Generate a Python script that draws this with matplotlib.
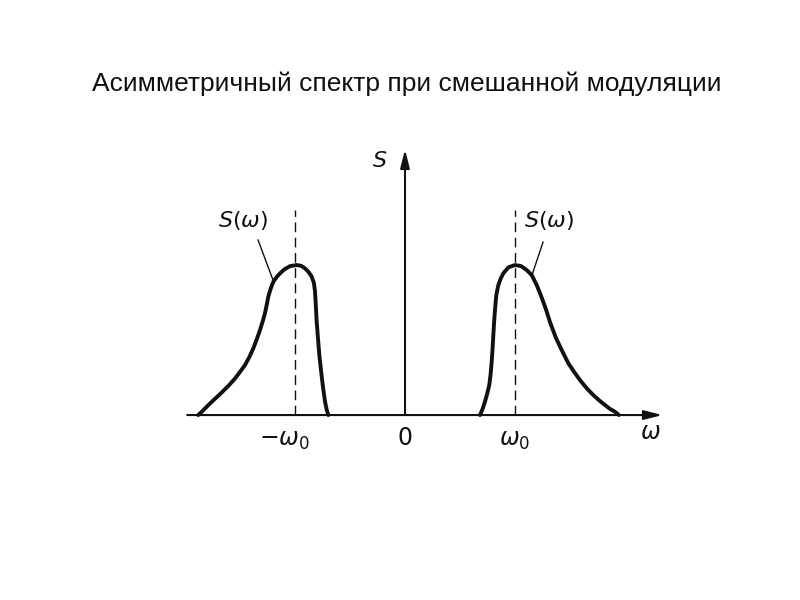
import matplotlib
matplotlib.use("Agg")
import matplotlib.pyplot as plt

plt.rcParams["font.family"] = ["Liberation Sans", "DejaVu Sans"]
plt.rcParams["mathtext.fontset"] = "dejavusans"

TITLE = "Асимметричный спектр при смешанной модуляции"

# spectrum around -w0 (steep edge on the inner side)
left_w = [-1.880, -1.830, -1.780, -1.725, -1.667, -1.605, -1.545, -1.500, -1.455, -1.415,
          -1.379, -1.348, -1.318, -1.295, -1.273, -1.257, -1.243, -1.220, -1.197, -1.165,
          -1.136, -1.095, -1.045, -0.985, -0.945, -0.909, -0.875, -0.848, -0.828, -0.818,
          -0.810, -0.803, -0.791, -0.779, -0.764, -0.748, -0.727, -0.712, -0.697]
left_s = [0.000, 0.035, 0.072, 0.110, 0.150, 0.195, 0.244, 0.288, 0.333, 0.387,
          0.445, 0.505, 0.567, 0.622, 0.678, 0.735, 0.789, 0.845, 0.889, 0.922,
          0.945, 0.972, 0.993, 1.000, 0.995, 0.978, 0.952, 0.922, 0.880, 0.822,
          0.720, 0.622, 0.510, 0.400, 0.300, 0.200, 0.089, 0.035, 0.000]

# spectrum around +w0 (steep edge on the inner side)
right_w = [0.682, 0.705, 0.727, 0.748, 0.766, 0.778, 0.788, 0.796, 0.803, 0.810,
           0.818, 0.830, 0.848, 0.870, 0.894, 0.940, 1.000, 1.055, 1.106, 1.152,
           1.197, 1.227, 1.257, 1.288, 1.318, 1.345, 1.373, 1.430, 1.485, 1.540,
           1.591, 1.650, 1.712, 1.765, 1.818, 1.865, 1.909, 1.945]
right_s = [0.000, 0.040, 0.089, 0.145, 0.200, 0.270, 0.355, 0.440, 0.533, 0.620,
           0.700, 0.800, 0.865, 0.910, 0.945, 0.985, 1.000, 0.993, 0.967, 0.933,
           0.867, 0.813, 0.755, 0.690, 0.620, 0.567, 0.513, 0.425, 0.345, 0.285,
           0.233, 0.180, 0.133, 0.098, 0.067, 0.040, 0.022, 0.000]

w0 = 1.0
xtick_pos = [-w0, 0.0, w0]
xtick_labels = [r"$-\omega_0$", r"$0$", r"$\omega_0$"]

fig = plt.figure(figsize=(8, 6), dpi=100)
fig.text(0.509, 0.86, TITLE, ha="center", va="center", fontsize=19, color="#111111")

# axes spanning the whole canvas; axis origin placed by limits
ax = fig.add_axes([0, 0, 1, 1])
ax.set_xlim(-3.682, 3.591)
ax.set_ylim(-1.233, 2.767)
ax.axis("off")

ink = "#111111"
arrow = dict(arrowstyle="-|>,head_length=1.1,head_width=0.28", color=ink, lw=1.5,
             shrinkA=0, shrinkB=0)
ax.annotate("", xy=(2.34, 0), xytext=(-1.98, 0), arrowprops=arrow)
ax.annotate("", xy=(0, 1.77), xytext=(0, 0), arrowprops=arrow)

ax.plot(left_w, left_s, color=ink, lw=2.8, solid_capstyle="round", solid_joinstyle="round")
ax.plot(right_w, right_s, color=ink, lw=2.8, solid_capstyle="round", solid_joinstyle="round")

for x in (-w0, w0):
    ax.plot([x, x], [0, 1.37], color=ink, lw=1.0, ls=(0, (7, 4)))

# leader lines to the S(w) labels
ax.plot([-1.336, -1.20], [1.167, 0.90], color=ink, lw=1.0)
ax.plot([1.255, 1.16], [1.153, 0.945], color=ink, lw=1.0)
ax.text(-1.47, 1.30, r"$S(\omega)$", ha="center", va="center", fontsize=16, color=ink)
ax.text(1.31, 1.30, r"$S(\omega)$", ha="center", va="center", fontsize=16, color=ink)
ax.text(-0.23, 1.69, r"$S$", ha="center", va="center", fontsize=16, color=ink)

for x, lab in zip(xtick_pos, xtick_labels):
    ax.text(x - (0.10 if x < 0 else 0), -0.16 if x == 0 else -0.17, lab,
            ha="center", va="center", fontsize=17, color=ink)
ax.text(2.23, -0.12, r"$\omega$", ha="center", va="center", fontsize=17, color=ink)

fig.savefig("out.png", dpi=100)
